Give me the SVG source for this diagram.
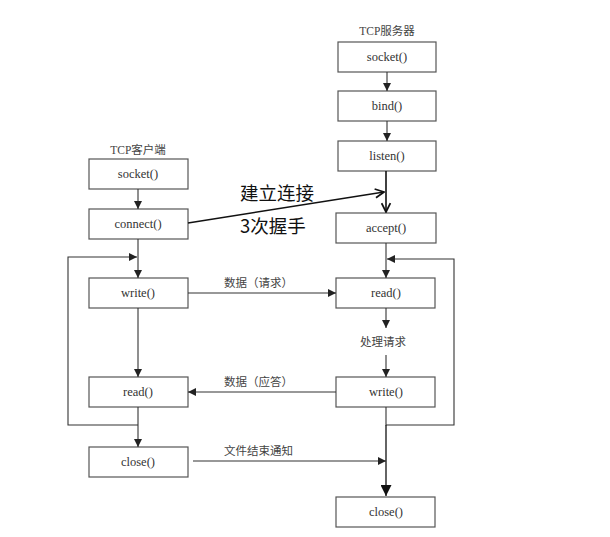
<svg xmlns="http://www.w3.org/2000/svg" width="610" height="537" viewBox="0 0 610 537">
<defs>
<marker id="tri" viewBox="0 0 10 10" refX="10" refY="5" markerWidth="8" markerHeight="8" markerUnits="userSpaceOnUse" orient="auto"><path d="M0,0 L10,5 L0,10 z" fill="#222"/></marker>
<marker id="triL" viewBox="0 0 10 10" refX="10" refY="5" markerWidth="11" markerHeight="11" markerUnits="userSpaceOnUse" orient="auto"><path d="M0,0 L10,5 L0,10 z" fill="#111"/></marker>
<marker id="chev" viewBox="0 0 10 10" refX="9" refY="5" markerWidth="11" markerHeight="11" markerUnits="userSpaceOnUse" orient="auto"><path d="M1,1 L9,5 L1,9" fill="none" stroke="#111" stroke-width="1.6"/></marker>
</defs>
<style>
.box{fill:#fff;stroke:#555;stroke-width:1.2}
.fn{font-family:"Liberation Serif","Noto Serif CJK SC",serif;font-size:12.5px;fill:#333;text-anchor:middle}
.ttl{font-family:"Liberation Serif","Noto Sans CJK SC",serif;font-size:11.5px;fill:#444;text-anchor:middle}
.lbl{font-family:"Noto Sans CJK SC",sans-serif;font-size:11.5px;fill:#444}
.big{font-family:"Noto Sans CJK SC",sans-serif;font-size:18.5px;fill:#111}
.ln{fill:none;stroke:#333;stroke-width:1.1}
.a{marker-end:url(#tri)}
</style>
<rect width="610" height="537" fill="#fff"/>
<text class="ttl" x="387" y="35">TCP服务器</text>
<text class="ttl" x="138" y="154">TCP客户端</text>
<g id="s_socket"><rect class="box" x="338" y="42" width="98" height="30"/><text class="fn" x="387" y="61">socket()</text></g>
<g id="s_bind"><rect class="box" x="338" y="91" width="98" height="30"/><text class="fn" x="387" y="110">bind()</text></g>
<g id="s_listen"><rect class="box" x="338" y="141" width="98" height="30"/><text class="fn" x="387" y="160">listen()</text></g>
<g id="s_accept"><rect class="box" x="336" y="213" width="100" height="30"/><text class="fn" x="386" y="232">accept()</text></g>
<g id="s_read"><rect class="box" x="336" y="278" width="99" height="30"/><text class="fn" x="386" y="297">read()</text></g>
<g id="s_write"><rect class="box" x="336" y="377" width="99" height="30"/><text class="fn" x="386" y="396">write()</text></g>
<g id="s_close"><rect class="box" x="336" y="497" width="99" height="30"/><text class="fn" x="386" y="516">close()</text></g>
<g id="c_socket"><rect class="box" x="89" y="159" width="99" height="30"/><text class="fn" x="138" y="178">socket()</text></g>
<g id="c_connect"><rect class="box" x="89" y="209" width="99" height="30"/><text class="fn" x="138" y="228">connect()</text></g>
<g id="c_write"><rect class="box" x="89" y="278" width="99" height="30"/><text class="fn" x="138" y="297">write()</text></g>
<g id="c_read"><rect class="box" x="89" y="377" width="99" height="30"/><text class="fn" x="138" y="396">read()</text></g>
<g id="c_close"><rect class="box" x="89" y="447" width="99" height="30"/><text class="fn" x="138" y="466">close()</text></g>
<g id="connectors">
<line class="ln a" x1="387" y1="72" x2="387" y2="91"/>
<line class="ln a" x1="387" y1="121" x2="387" y2="141"/>
<line x1="386" y1="171" x2="386" y2="212" stroke="#111" stroke-width="1.6" marker-end="url(#chev)"/>
<line class="ln a" x1="386" y1="243" x2="386" y2="278"/>
<line class="ln a" x1="386" y1="308" x2="386" y2="328"/>
<line class="ln a" x1="386" y1="355" x2="386" y2="377"/>
<polyline class="ln a" points="386,407 386,425 454,425 454,259 387,259"/>
<line x1="386" y1="425" x2="386" y2="496" stroke="#111" stroke-width="1.3" marker-end="url(#triL)"/>
<line class="ln a" x1="138" y1="189" x2="138" y2="209"/>
<line class="ln a" x1="138" y1="239" x2="138" y2="278"/>
<line class="ln a" x1="138" y1="308" x2="138" y2="377"/>
<line class="ln a" x1="138" y1="407" x2="138" y2="447"/>
<polyline class="ln a" points="138,425 68,425 68,257 137,257"/>
<line x1="188" y1="223" x2="384" y2="192" stroke="#111" stroke-width="1.6" marker-end="url(#chev)"/>
<line class="ln a" x1="188" y1="293" x2="336" y2="293"/>
<line class="ln a" x1="336" y1="392" x2="188" y2="392"/>
<line class="ln a" x1="193" y1="461" x2="386" y2="461"/>
</g>
<text class="big" x="240" y="200">建立连接</text>
<text class="big" x="240" y="233">3次握手</text>
<text class="lbl" x="224" y="287">数据（请求）</text>
<text class="lbl" x="360" y="346">处理请求</text>
<text class="lbl" x="224" y="386">数据（应答）</text>
<text class="lbl" x="224" y="455">文件结束通知</text>
</svg>
